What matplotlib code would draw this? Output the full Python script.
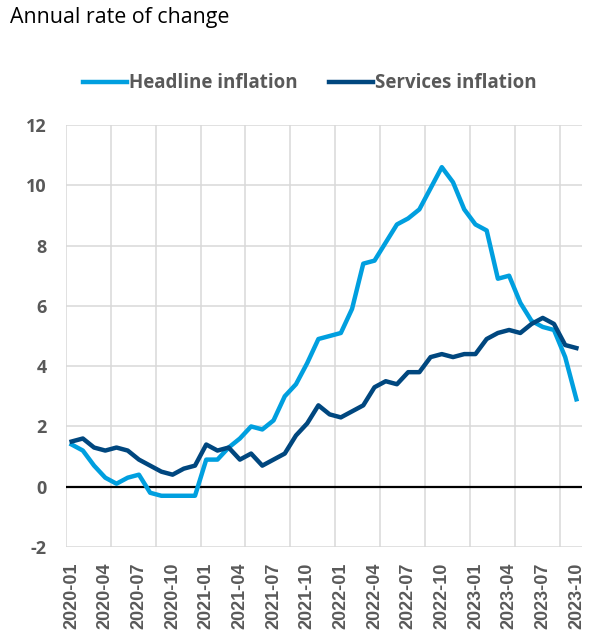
import numpy as np
import matplotlib.pyplot as plt

# months shown on the category axis
months = [f"{y}-{m:02d}" for y in range(2020, 2024) for m in range(1, 13)][:46]

headline = [1.4, 1.2, 0.7, 0.3, 0.1, 0.3, 0.4, -0.2, -0.3, -0.3, -0.3, -0.3,
            0.9, 0.9, 1.3, 1.6, 2.0, 1.9, 2.2, 3.0, 3.4, 4.1, 4.9, 5.0,
            5.1, 5.9, 7.4, 7.5, 8.1, 8.7, 8.9, 9.2, 9.9, 10.6, 10.1, 9.2,
            8.7, 8.5, 6.9, 7.0, 6.1, 5.5, 5.3, 5.2, 4.3, 2.9]
services = [1.5, 1.6, 1.3, 1.2, 1.3, 1.2, 0.9, 0.7, 0.5, 0.4, 0.6, 0.7,
            1.4, 1.2, 1.3, 0.9, 1.1, 0.7, 0.9, 1.1, 1.7, 2.1, 2.7, 2.4,
            2.3, 2.5, 2.7, 3.3, 3.5, 3.4, 3.8, 3.8, 4.3, 4.4, 4.3, 4.4,
            4.4, 4.9, 5.1, 5.2, 5.1, 5.4, 5.6, 5.4, 4.7, 4.6]

plt.rcParams['font.family'] = ['Open Sans', 'DejaVu Sans']
plt.rcParams['axes.unicode_minus'] = False

grey = '#595959'
light = '#009FDF'
dark = '#00477F'

fig = plt.figure(figsize=(5.91, 6.36), dpi=100)
ax = fig.add_axes([0.1117, 0.1399, 0.8731, 0.6636])

x = np.arange(len(months))
ax.plot(x, headline, color=light, lw=3.2, label='Headline inflation', zorder=3)
ax.plot(x, services, color=dark, lw=3.2, label='Services inflation', zorder=4)
ax.axhline(0, color='black', lw=1.6, zorder=2)

ax.set_xlim(-0.5, len(months) - 0.5)
ax.set_ylim(-2, 12)
ax.set_yticks(range(-2, 13, 2))
ax.set_xticks(x[::3])
ax.set_xticklabels(months[::3], rotation=90, family=['Liberation Sans', 'DejaVu Sans'])

# grid lines on category boundaries, every 4 months
for b in np.arange(-0.5, len(months) - 1, 4):
    ax.axvline(b, color='#D9D9D9', lw=1.1, zorder=1)
for yv in range(-2, 13, 2):
    ax.axhline(yv, color='#D9D9D9', lw=1.1, zorder=1)

for s in ax.spines.values():
    s.set_visible(False)
ax.tick_params(length=0, labelsize=13, labelcolor=grey)
ax.tick_params(axis='x', pad=11)
ax.tick_params(axis='y', pad=14)
for t in ax.get_xticklabels() + ax.get_yticklabels():
    t.set_fontweight('bold')

fig.text(0.017, 0.973, 'Annual rate of change', fontsize=15.4, va='center', ha='left')
fig.legend(loc='center', bbox_to_anchor=(0.524, 0.869), ncol=2, frameon=False,
           prop={'size': 13.5, 'weight': 'bold'}, labelcolor=grey,
           handlelength=2.35, handletextpad=0.1, columnspacing=1.7)

fig.savefig('out.png', dpi=100)
